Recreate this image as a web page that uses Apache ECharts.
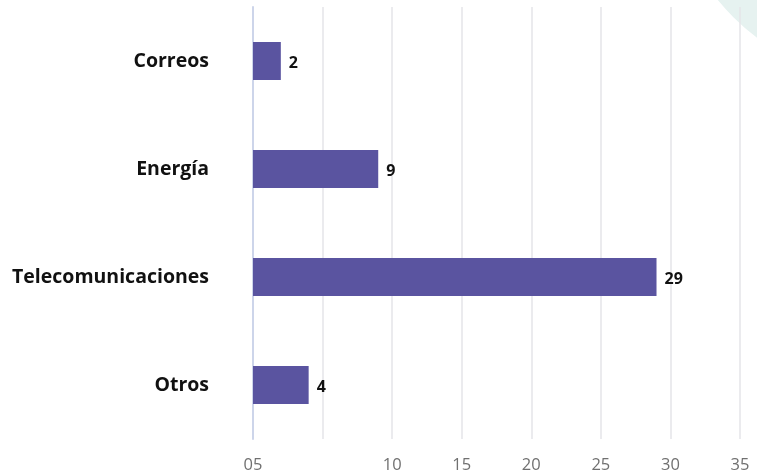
<!DOCTYPE html>
<html>
<head>
<meta charset="utf-8">
<script src="https://cdn.jsdelivr.net/npm/echarts@6/dist/echarts.min.js"></script>
<style>
  html, body { margin: 0; padding: 0; background: #fff; }
  #chart { width: 757px; height: 474px; }
</style>
</head>
<body>
<div id="chart"></div>
<script>
;(function () {
  // datos
  var categorias = ['Correos', 'Energía', 'Telecomunicaciones', 'Otros'];
  var valores = [2, 9, 29, 4];
  var etiquetasEje = { 0: '05', 5: '', 10: '10', 15: '15', 20: '20', 25: '25', 30: '30', 35: '35' };

  var myChart = echarts.init(document.getElementById('chart'));

  var option = {
    backgroundColor: '#fff',
    animation: false,
    graphic: [{
      type: 'ring',
      shape: { cx: 900, cy: -150, r: 236, r0: 160 },
      style: { fill: '#e6f2f0' },
      z: -10
    }],
    grid: { left: 253, right: 17, top: 7, bottom: 35 },
    xAxis: {
      type: 'value',
      min: 0,
      max: 35,
      interval: 5,
      axisLine: { show: false },
      axisTick: { show: false },
      splitLine: { lineStyle: { color: '#e4e4e8', width: 1.5 } },
      axisLabel: {
        color: '#707070',
        fontSize: 16.5,
        fontFamily: 'Open Sans',
        margin: 18,
        formatter: function (v) { return etiquetasEje[v]; }
      }
    },
    yAxis: {
      type: 'category',
      inverse: true,
      data: categorias,
      axisLine: { show: true, lineStyle: { color: '#cdd5ea', width: 2 } },
      axisTick: { show: false },
      axisLabel: {
        color: '#111',
        fontSize: 19.5,
        fontWeight: 'bold',
        fontFamily: 'Open Sans',
        margin: 44,
        offset: [0, -2]
      }
    },
    series: [{
      type: 'bar',
      data: valores,
      barWidth: 38,
      itemStyle: { color: '#5a54a0' },
      label: {
        show: true,
        position: 'right',
        distance: 8,
        color: '#111',
        fontSize: 16,
        fontWeight: 'bold',
        fontFamily: 'Open Sans',
        offset: [0, 2]
      }
    }]
  };

  myChart.setOption(option);
})();
</script>
</body>
</html>
